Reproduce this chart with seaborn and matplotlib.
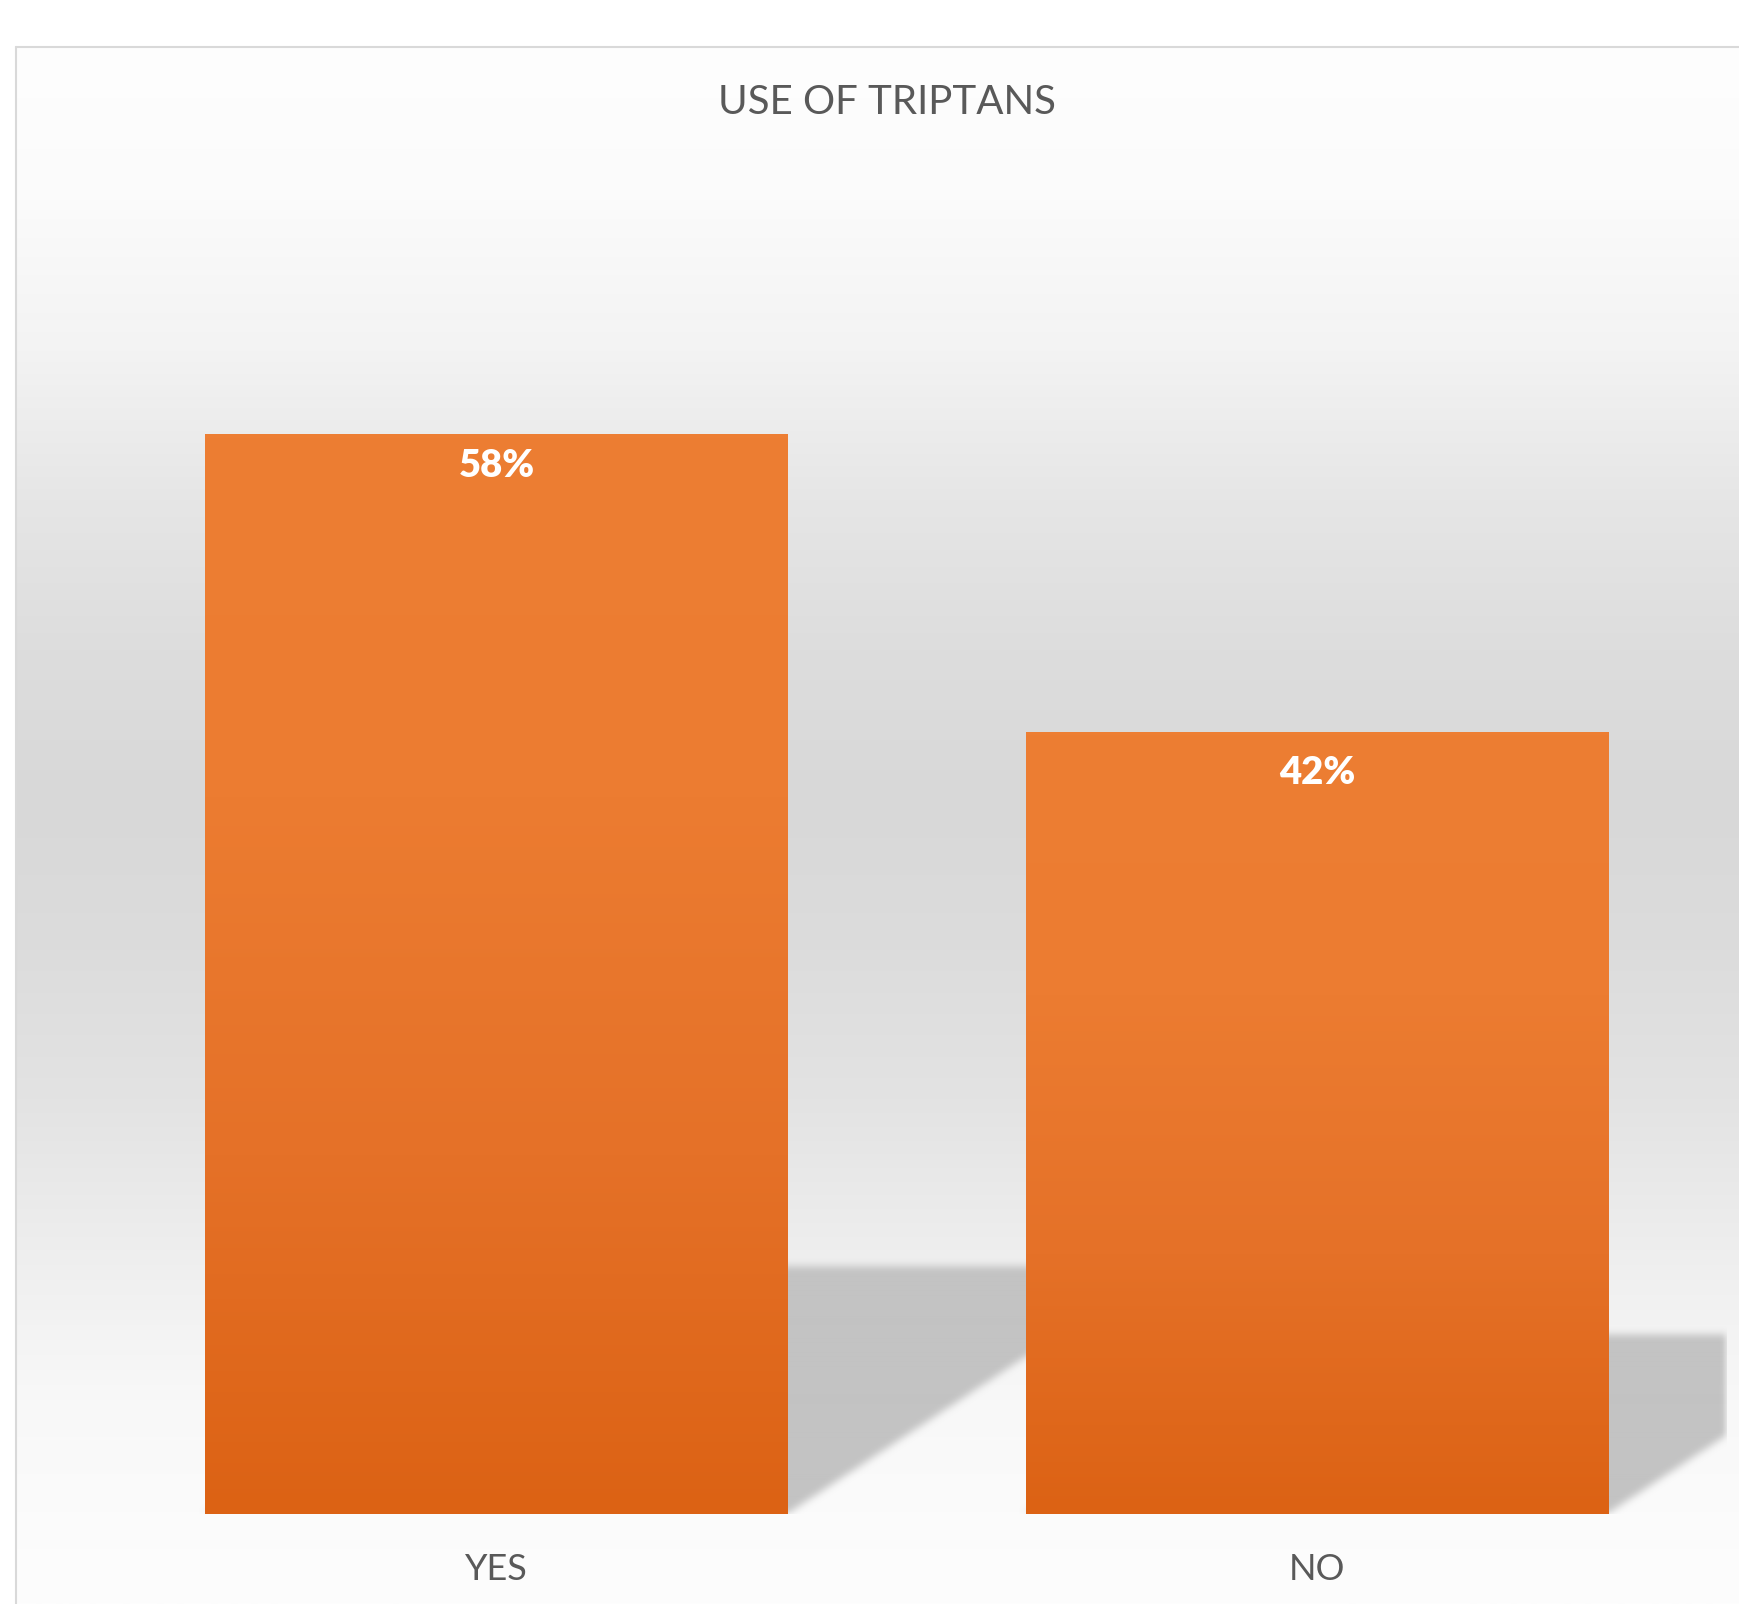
import numpy as np
import matplotlib
matplotlib.use("Agg")
import matplotlib.pyplot as plt
from matplotlib.colors import LinearSegmentedColormap, to_rgb
from matplotlib.lines import Line2D
import seaborn as sns

# ---- data ----
categories = ["YES", "NO"]
values = [58, 42]
value_labels = ["58%", "42%"]
title = "USE OF TRIPTANS"

sns.set_style("white")
plt.rcParams["font.family"] = ["Lato", "DejaVu Sans"]

W, H = 1740, 1604
DPI = 100
fig = plt.figure(figsize=(W / DPI, H / DPI), dpi=DPI)
fig.patch.set_facecolor("white")

# ---- chart area: soft vertical grey gradient ----
frame_l, frame_t = 16, 47
bg = fig.add_axes([frame_l / W, 0, 1 - frame_l / W, 1 - frame_t / H])
bg.set_axis_off()
stop_pos = [0.0, 0.098, 0.195, 0.291, 0.387, 0.484, 0.58, 0.676, 0.773, 0.869, 0.965, 1.0]
stop_val = [254, 251, 243, 230, 221, 216, 220, 227, 238, 248, 252, 253]
rows = np.linspace(0, 1, 1557)
shade = np.interp(rows, stop_pos, stop_val) / 255.0
grad_img = np.repeat(shade[:, None, None], 3, axis=2)
bg.imshow(grad_img, extent=[0, 1, 0, 1], origin="upper", aspect="auto")
bg.set_xlim(0, 1)
bg.set_ylim(0, 1)

# frame border (left and top edges)
border_kw = dict(color="#d9d9d9", lw=1.5, transform=fig.transFigure)
fig.add_artist(Line2D([frame_l / W, frame_l / W], [0, 1 - frame_t / H], **border_kw))
fig.add_artist(Line2D([frame_l / W, 1], [1 - frame_t / H, 1 - frame_t / H], **border_kw))

# ---- plot area ----
ax = fig.add_axes([86.25 / W, 90 / H, 1641 / W, 1303 / H])
ax.patch.set_alpha(0)

sns.barplot(x=categories, y=values, color="#ED7D31", saturation=1,
            width=0.71, ax=ax, zorder=3, edgecolor="none", linewidth=0)

ax.set_xlim(-0.5, 1.5)
ax.set_ylim(0, 70)

# perspective drop shadows behind the bars
shadow_rise = 0.23      # shadow height relative to bar height
shadow_lean = 0.0079    # horizontal lean (x units per value unit)
ymax = 16.0
nx, ny = 1641, int(ymax * 1303 / 70)
xs = np.linspace(-0.5, 1.5, nx)
ys = np.linspace(0, ymax, ny)
X, Y = np.meshgrid(xs, ys)
mask = np.zeros_like(X)
for patch in ax.patches:
    x0, w, v = patch.get_x(), patch.get_width(), patch.get_height()
    top = shadow_rise * v
    xs_shift = X - (shadow_lean / shadow_rise) * Y
    inside = (Y <= top) & (xs_shift >= x0) & (xs_shift <= x0 + w)
    mask = np.maximum(mask, inside.astype(float))


def box_blur(a, r):
    k = np.ones(2 * r + 1) / (2 * r + 1)
    a = np.apply_along_axis(lambda m: np.convolve(m, k, mode="same"), 0, a)
    a = np.apply_along_axis(lambda m: np.convolve(m, k, mode="same"), 1, a)
    return a


mask = box_blur(box_blur(mask, 4), 4)
shadow = np.zeros((ny, nx, 4))
shadow[..., :3] = to_rgb("#c3c3c3")
shadow[..., 3] = np.clip(mask, 0, 1)
ax.imshow(shadow, extent=[-0.5, 1.5, 0, ymax], origin="lower",
          aspect="auto", zorder=1, interpolation="bilinear")

# vertical orange gradient on each bar
bar_cmap = LinearSegmentedColormap.from_list(
    "bar_fill", ["#DC6214", "#E57128", "#EC7C31", "#ED7E33"])
grad = np.linspace(0, 1, 256).reshape(-1, 1)
for patch in ax.patches:
    x0, w, v = patch.get_x(), patch.get_width(), patch.get_height()
    im = ax.imshow(grad, extent=[x0, x0 + w, 0, v], origin="lower",
                   cmap=bar_cmap, aspect="auto", zorder=3.5)
    im.set_clip_path(patch)

ax.set_xlim(-0.5, 1.5)
ax.set_ylim(0, 70)

# value labels inside the top of each bar
label_drop = [23.0, 29.5]
for i, (v, lab) in enumerate(zip(values, value_labels)):
    ax.annotate(lab, xy=(i, v), xytext=(0, -label_drop[i]),
                textcoords="offset points", ha="center", va="center",
                color="white", fontsize=27.5, fontweight="heavy", zorder=5)

sns.despine(ax=ax, left=True, bottom=True)
ax.set_yticks([])
ax.set_xlabel("")
ax.set_ylabel("")
ax.tick_params(axis="x", length=0, pad=28, labelsize=26, labelcolor="#595959")
ax.grid(False)

fig.text(887 / W, 1 - 114 / H, title, ha="center", va="baseline",
         fontsize=29, color="#595959")

fig.savefig("out.png", dpi=DPI)
